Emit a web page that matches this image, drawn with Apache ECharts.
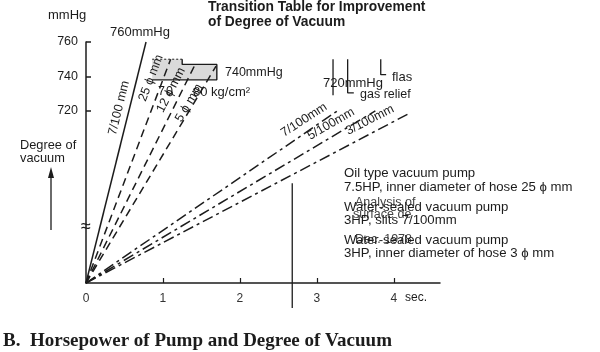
<!DOCTYPE html>
<html><head><meta charset="utf-8">
<script src="https://cdn.jsdelivr.net/npm/echarts@6/dist/echarts.min.js"></script>
<style>html,body{margin:0;padding:0;background:#fff}#c{width:600px;height:352px}</style>
</head><body><div id="c"></div>
<script>
// ---- data (x: seconds, y: mmHg) ----
const xTickValues = [0, 1, 2, 3, 4];
const yTickValues = [720, 740, 760];
const solid7_100 = [[0, 0], [0.78, 760]];          // 7/100 mm
const dashed25 = [[0, 0], [1.10, 750]];            // 25φ mm
const dashed12 = [[0, 0], [1.43, 748]];            // 12φ mm
const dashed5 = [[0, 0], [1.69, 746]];             // 5φ mm
const slit7 = [[0, 0], [3.30, 721]];               // 7/100mm
const slit5 = [[0, 0], [3.76, 720]];               // 5/100mm
const slit3 = [[0, 0], [4.22, 719]];               // 3/100mm
const shadeArea = [[0.86, 750], [1.25, 750], [1.25, 747], [1.70, 747], [1.70, 738], [0.86, 738]];
const shadeBorder = [[1.25, 750], [1.25, 747], [1.70, 747], [1.70, 738], [0.86, 738]];
const shadeDotted = [[0.86, 750], [1.25, 750]];
const reliefBar1 = [[3.21, 750], [3.21, 729]];
const reliefBar2 = [[3.40, 750], [3.40, 730.5], [3.48, 730.5]];
const reliefBar3 = [[3.83, 750], [3.83, 741], [3.90, 741]];
const markerTime = 2.68;
const markerTopMmHg = 678;

// broken y axis: linear above the break, compressed below it
const BREAK = 650, OFFSET = 620;
function axisY(m) { return m >= BREAK ? m - OFFSET : m * (BREAK - OFFSET) / BREAK; }
function conv(arr) { return arr.map(p => [p[0], axisY(p[1])]); }

const INK = '#1c1c1c';
const chart = echarts.init(document.getElementById('c'), null, { renderer: 'canvas' });

function lineSeries(data, type, width) {
  return { type: 'line', data: conv(data), symbol: 'none', silent: true, animation: false,
    clip: false, lineStyle: { color: INK, width: width || 1.5, type: type || 'solid', cap: 'butt' } };
}
const dashDot = [11, 4, 3, 4];
const dash = [8, 5];

const series = [
  { type: 'custom', silent: true, animation: false, data: [0],
    renderItem: function (params, api) {
      const pts = shadeArea.map(p => api.coord([p[0], axisY(p[1])]));
      return { type: 'polygon', shape: { points: pts }, style: { fill: '#dadada', stroke: null } };
    } },
  lineSeries(shadeBorder, 'solid', 1.4),
  lineSeries(shadeDotted, [2, 2], 1),
  lineSeries(solid7_100, 'solid', 1.5),
  lineSeries(dashed25, dash, 1.5),
  lineSeries(dashed12, dash, 1.5),
  lineSeries(dashed5, dash, 1.5),
  lineSeries(slit7, dashDot, 1.5),
  lineSeries(slit5, dashDot, 1.5),
  lineSeries(slit3, dashDot, 1.5),
  lineSeries(reliefBar1, 'solid', 1.3),
  lineSeries(reliefBar2, 'solid', 1.3),
  lineSeries(reliefBar3, 'solid', 1.3),
  { type: 'line', symbol: 'none', silent: true, animation: false, clip: false,
    data: [[markerTime, axisY(markerTopMmHg)], [markerTime, -14.5]],
    lineStyle: { color: INK, width: 1.3 } }
];

const F = 'Liberation Sans, Arial, sans-serif';
function txt(text, x, y, opt) {
  opt = opt || {};
  return { type: 'text', x: x, y: y, rotation: (opt.rot || 0) * Math.PI / 180, silent: true, z: 10,
    style: { text: text, fill: opt.fill || INK, font: (opt.weight || 'normal') + ' ' + (opt.size || 12.5) + 'px ' + (opt.family || F),
      align: opt.align || 'left', verticalAlign: 'middle', lineHeight: opt.lh || 13 } };
}

const graphics = [
  txt('Transition Table for Improvement', 208, 7, { weight: 'bold', size: 13.8 }),
  txt('of Degree of Vacuum', 208, 22, { weight: 'bold', size: 13.8 }),
  txt('mmHg', 48, 15, { size: 13 }),
  txt('760mmHg', 110, 32, { size: 13 }),
  txt('740mmHg', 225, 73, { size: 12.5 }),
  txt('7', 158, 92, { size: 12.5 }),
  txt('0', 166, 92, { size: 12.5 }),
  txt('80 kg/cm²', 193, 92, { size: 13 }),
  txt('720mmHg', 323, 83, { size: 13 }),
  txt('flas', 392, 77, { size: 13 }),
  txt('gas relief', 360, 95, { size: 12.5 }),
  txt('7/100 mm', 119, 108, { size: 12.5, rot: 76, align: 'center' }),
  txt('25 ϕ mm', 151, 78, { size: 12.5, rot: 69, align: 'center' }),
  txt('12 ϕ mm', 171, 90, { size: 12.5, rot: 63, align: 'center' }),
  txt('5 ϕ mm', 189, 103, { size: 12.5, rot: 59, align: 'center' }),
  txt('7/100mm', 304, 120, { size: 12.5, rot: 33, align: 'center' }),
  txt('5/100mm', 331, 124, { size: 12.5, rot: 30, align: 'center' }),
  txt('3/100mm', 370, 120, { size: 12.5, rot: 27, align: 'center' }),
  txt('Degree of', 20, 145, { size: 12.8 }),
  txt('vacuum', 20, 158, { size: 12.8 }),
  { type: 'line', silent: true, shape: { x1: 51, y1: 230, x2: 51, y2: 176 }, style: { stroke: INK, lineWidth: 1.3 } },
  { type: 'polygon', silent: true, shape: { points: [[51, 167], [48, 178], [54, 178]] }, style: { fill: INK } },
  txt('≈', 86, 227, { size: 18, align: 'center' }),
  txt('sec.', 405, 298, { size: 12 }),
  txt('Analysis of', 355, 203, { size: 12.5, fill: '#444' }),
  txt('surface de', 353, 215, { size: 12.5, fill: '#444' }),
  txt('Dec. 1978', 355, 240, { size: 12.5, fill: '#444' }),
  txt('Oil type vacuum pump', 344, 173, { size: 13.2 }),
  txt('7.5HP, inner diameter of hose 25 ϕ mm', 344, 187, { size: 13.2 }),
  txt('Water-sealed vacuum pump', 344, 207, { size: 13.2 }),
  txt('3HP, slits 7/100mm', 344, 220, { size: 13.2 }),
  txt('Water-sealed vacuum pump', 344, 240, { size: 13.2 }),
  txt('3HP, inner diameter of hose 3 ϕ mm', 344, 253, { size: 13.2 }),
  txt('B.  Horsepower of Pump and Degree of Vacuum', 3, 341, { size: 19, weight: 'bold', family: 'Liberation Serif, serif' })
];

chart.setOption({
  backgroundColor: '#fff',
  animation: false,
  grid: { left: 86, top: 42, right: 160, bottom: 69, containLabel: false },
  xAxis: {
    type: 'value', min: 0, max: 4.6, interval: 1,
    axisLine: { show: true, onZero: false, lineStyle: { color: INK, width: 1.5 } },
    axisTick: { show: true, inside: true, length: 5, customValues: [1, 2, 3, 4], lineStyle: { color: INK, width: 1.2 } },
    axisLabel: { customValues: xTickValues, color: '#333', fontSize: 12, fontFamily: F, margin: 10 },
    splitLine: { show: false }
  },
  yAxis: {
    type: 'value', min: 0, max: 140, interval: 20,
    axisLine: { show: true, onZero: false, lineStyle: { color: INK, width: 1.5 } },
    axisTick: { show: true, inside: true, length: 5, customValues: yTickValues.map(axisY), lineStyle: { color: INK, width: 1.5 } },
    axisLabel: { customValues: yTickValues.map(axisY), formatter: v => String(Math.round(v + OFFSET)), color: INK, fontSize: 12.5, fontFamily: F, margin: 8 },
    splitLine: { show: false }
  },
  graphic: graphics,
  series: series
});
</script></body></html>
